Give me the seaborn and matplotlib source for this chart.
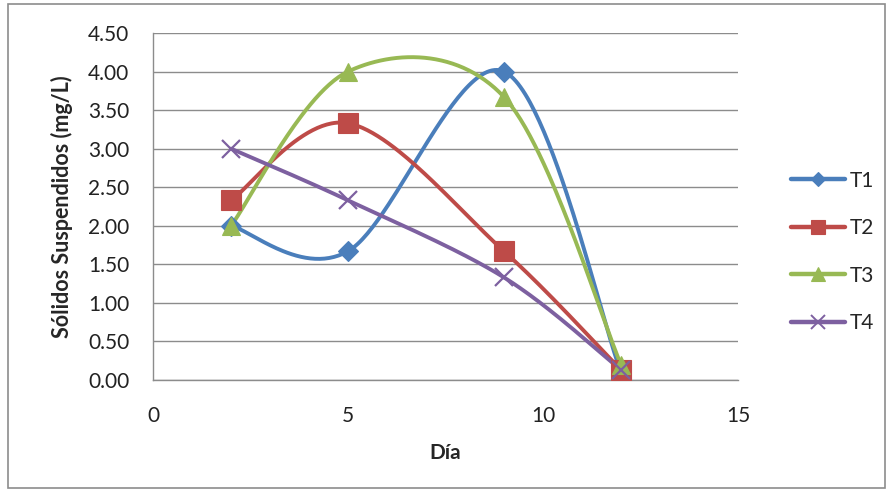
import numpy as np
import pandas as pd
import matplotlib
matplotlib.use("Agg")
import matplotlib.pyplot as plt
from matplotlib.lines import Line2D
from matplotlib.patches import Rectangle
import seaborn as sns

dias = [2, 5, 9, 12]
t1 = [2.00, 1.67, 4.00, 0.10]
t2 = [2.33, 3.33, 1.67, 0.13]
t3 = [2.00, 4.00, 3.67, 0.20]
t4 = [3.00, 2.33, 1.33, 0.13]
series_names = ["T1", "T2", "T3", "T4"]
y_ticks = [0.0, 0.5, 1.0, 1.5, 2.0, 2.5, 3.0, 3.5, 4.0, 4.5]
x_ticks = [0, 5, 10, 15]

colors = {"T1": "#4A7EBB", "T2": "#BE4B48", "T3": "#98B954", "T4": "#7D60A0"}
markers = {"T1": "D", "T2": "s", "T3": "^", "T4": "x"}
msizes = {"T1": 10, "T2": 14, "T3": 13, "T4": 13}

sns.set_style("white")
plt.rcParams["font.family"] = ["Lato", "DejaVu Sans"]


def excel_smooth(x, y, n=60):
    x = np.asarray(x, float); y = np.asarray(y, float)
    P = np.column_stack([x, y])
    out = []
    for i in range(len(P) - 1):
        p0 = P[i - 1] if i > 0 else P[i]
        p1 = P[i]
        p2 = P[i + 1]
        p3 = P[i + 2] if i + 2 < len(P) else P[i + 1]
        c1 = p1 + (p2 - p0) / 6.0
        c2 = p2 - (p3 - p1) / 6.0
        t = np.linspace(0, 1, n)[:, None]
        b = ((1 - t) ** 3) * p1 + 3 * ((1 - t) ** 2) * t * c1 + 3 * (1 - t) * t ** 2 * c2 + t ** 3 * p2
        out.append(b if i == 0 else b[1:])
    return np.vstack(out)


fig = plt.figure(figsize=(8.9, 4.92), dpi=100)
fig.patches.append(Rectangle((8 / 890, 4 / 492), 877 / 890, 484 / 492, transform=fig.transFigure,
                             fill=False, edgecolor="#8C8C8C", linewidth=1.2))
ax = fig.add_axes([153 / 890, 1 - 380 / 492, (738 - 153) / 890, (380 - 33) / 492])

data = {"T1": t1, "T2": t2, "T3": t3, "T4": t4}
rows = []
for name in series_names:
    sm = excel_smooth(dias, data[name])
    for k, (xx, yy) in enumerate(sm):
        rows.append({"serie": name, "x": xx, "y": yy, "order": k})
smooth_df = pd.DataFrame(rows)
pts_df = pd.DataFrame({"serie": np.repeat(series_names, len(dias)),
                       "x": dias * 4,
                       "y": t1 + t2 + t3 + t4})

for name in series_names:
    sub = smooth_df[smooth_df.serie == name]
    sns.lineplot(data=sub, x="x", y="y", sort=False, estimator=None, ax=ax,
                 color=colors[name], linewidth=2.8, legend=False, zorder=3)
for name in series_names:
    sub = pts_df[pts_df.serie == name]
    ax.plot(sub.x, sub.y, linestyle="none", marker=markers[name], markersize=msizes[name],
            color=colors[name], markeredgewidth=1.6 if name == "T4" else 0.8,
            markeredgecolor=colors[name], zorder=4)

ax.set_xlim(0, 15)
ax.set_ylim(0, 4.5)
ax.set_xticks(x_ticks)
ax.set_yticks(y_ticks)
ax.set_yticklabels([f"{v:.2f}" for v in y_ticks], fontsize=15)
ax.set_xticklabels([str(v) for v in x_ticks], fontsize=15)
ax.yaxis.grid(True, color="#8C8C8C", linewidth=1)
ax.xaxis.grid(False)
for s in ["top", "right"]:
    ax.spines[s].set_visible(False)
for s in ["left", "bottom"]:
    ax.spines[s].set_color("#8C8C8C")
    ax.spines[s].set_linewidth(1)
ax.tick_params(axis="both", which="major", direction="out", length=8, width=1,
               color="#8C8C8C", labelcolor="#222222")
ax.tick_params(axis="y", pad=9)
ax.tick_params(axis="x", pad=11)
ax.set_xlabel("Día", fontsize=15, fontweight="bold", labelpad=12)
ax.set_ylabel("Sólidos Suspendidos (mg/L)", fontsize=15.5, fontweight="bold", labelpad=11)
ax.set_axisbelow(True)

handles = [Line2D([0], [0], color=colors[n], linewidth=3.2, marker=markers[n],
                  markersize=msizes[n] * 0.75, markeredgewidth=1.4 if n == "T4" else 0.8)
           for n in series_names]
fig.legend(handles, series_names, loc="center left", bbox_to_anchor=(772 / 890, 1 - 252 / 492),
           frameon=False, fontsize=15, handlelength=2.6, labelspacing=1.32, handletextpad=0.25)

fig.savefig("out.png", dpi=100)
